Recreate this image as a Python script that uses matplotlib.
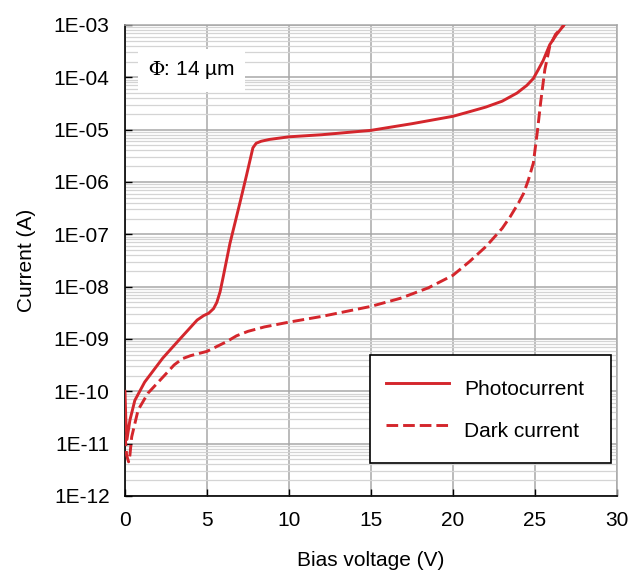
import matplotlib
matplotlib.use('Agg')
import matplotlib.pyplot as plt
from matplotlib.ticker import FixedLocator, LogLocator, NullFormatter

# photocurrent (solid)
photo_v = [0.0, 0.05, 0.12, 0.3, 0.6, 1.2, 2.3, 3.35, 4.4, 4.8, 5.1, 5.4, 5.6,
           5.8, 6.0, 6.4, 7.0, 7.4, 7.8, 8.0, 8.3, 8.8, 10.0, 12.0, 15.0, 17.5,
           20.0, 21.0, 22.0, 23.0, 23.9, 24.5, 24.9, 25.2, 25.5, 25.9, 26.3,
           26.75]
photo_i = [1.0e-10, 3e-11, 1.2e-11, 2.8e-11, 6.7e-11, 1.5e-10, 4.3e-10, 1.0e-9,
           2.3e-9, 2.8e-9, 3.1e-9, 3.8e-9, 5e-9, 8e-9, 1.6e-8, 6.7e-8, 3.9e-7,
           1.3e-6, 4.5e-6, 5.5e-6, 6.0e-6, 6.5e-6, 7.3e-6, 8.0e-6, 9.7e-6,
           1.3e-5, 1.8e-5, 2.2e-5, 2.7e-5, 3.5e-5, 5e-5, 7e-5, 9.5e-5, 1.4e-4,
           2.1e-4, 4.2e-4, 6.5e-4, 9.8e-4]

# dark current (dashed)
dark_v = [0.0, 0.1, 0.22, 0.3, 0.41, 0.8, 1.4, 2.4, 3.0, 3.5, 4.0, 5.0, 6.2,
          6.8, 7.5, 8.5, 10.0, 12.0, 15.0, 16.8, 18.5, 20.0, 21.0, 22.0, 23.0,
          23.5, 24.0, 24.3, 24.6, 24.9, 25.15, 25.35, 25.6, 25.9, 26.25, 26.75]
dark_i = [1.5e-11, 6e-12, 4.5e-12, 6e-12, 1.35e-11, 4.4e-11, 9.2e-11, 2.0e-10,
          3.2e-10, 4.2e-10, 4.8e-10, 5.8e-10, 8.9e-10, 1.15e-9, 1.4e-9, 1.7e-9,
          2.1e-9, 2.7e-9, 4.2e-9, 6e-9, 9.5e-9, 1.65e-8, 3e-8, 5.8e-8, 1.3e-7,
          2.2e-7, 4e-7, 6e-7, 1.1e-6, 2.3e-6, 9.5e-6, 3.4e-5, 1.4e-4, 3.9e-4,
          6.6e-4, 9.8e-4]

x_ticks = [0, 5, 10, 15, 20, 25, 30]
y_ticks = [1e-12, 1e-11, 1e-10, 1e-9, 1e-8, 1e-7, 1e-6, 1e-5, 1e-4, 1e-3]
y_labels = ['1E-12', '1E-11', '1E-10', '1E-09', '1E-08', '1E-07',
            '1E-06', '1E-05', '1E-04', '1E-03']

red = '#d4262c'
fs = 15
plt.rcParams['font.family'] = ['Liberation Sans', 'DejaVu Sans']
plt.rcParams['mathtext.fontset'] = 'stix'

fig = plt.figure(figsize=(6.29, 5.72), dpi=100)
ax = fig.add_axes([0.1987, 0.1329, 0.7822, 0.8234])

ax.plot(photo_v, photo_i, color=red, lw=2.1, label='Photocurrent', zorder=3)
dl, = ax.plot(dark_v, dark_i, color=red, lw=2.1, label='Dark current', zorder=3)
dl.set_dashes([4.0, 1.7])

ax.set_yscale('log')
ax.set_xlim(0, 30)
ax.set_ylim(1e-12, 1e-3)

ax.xaxis.set_major_locator(FixedLocator(x_ticks))
ax.set_yticks(y_ticks)
ax.set_yticklabels(y_labels)
ax.yaxis.set_minor_locator(LogLocator(base=10, subs=range(2, 10), numticks=20))
ax.yaxis.set_minor_formatter(NullFormatter())

ax.tick_params(axis='both', which='major', direction='in', length=5,
               width=1.0, color='black', labelsize=fs)
ax.tick_params(axis='x', which='major', pad=11)
ax.tick_params(axis='y', which='major', pad=11)
ax.tick_params(axis='both', which='minor', length=0)

ax.grid(True, which='major', color='#a8a8a8', lw=1.1, zorder=0)
ax.grid(True, which='minor', axis='y', color='#d4d4d4', lw=0.9, zorder=0)
ax.set_axisbelow(True)

for s in ['left', 'bottom']:
    ax.spines[s].set_color('black')
    ax.spines[s].set_linewidth(1.2)
for s in ['top', 'right']:
    ax.spines[s].set_color('#a8a8a8')
    ax.spines[s].set_linewidth(1.1)

ax.set_xlabel('Bias voltage (V)', fontsize=fs, labelpad=15)
ax.set_ylabel('Current (A)', fontsize=fs, labelpad=13)

ax.text(0.047, 0.904, r'$\Phi$: 14 µm', transform=ax.transAxes, fontsize=fs,
        va='center', ha='left',
        bbox=dict(boxstyle='square,pad=0.5', fc='white', ec='none'))

leg = ax.legend(loc='upper left', bbox_to_anchor=(0.498, 0.099, 0.49, 0.2),
                mode='expand', fontsize=fs, frameon=True, fancybox=False,
                edgecolor='black', framealpha=1, handlelength=3.05,
                handleheight=2.2, handletextpad=0.7, labelspacing=0.34,
                borderpad=0.75, borderaxespad=0)
leg.get_frame().set_linewidth(1.2)

fig.savefig('out.png', dpi=100)
